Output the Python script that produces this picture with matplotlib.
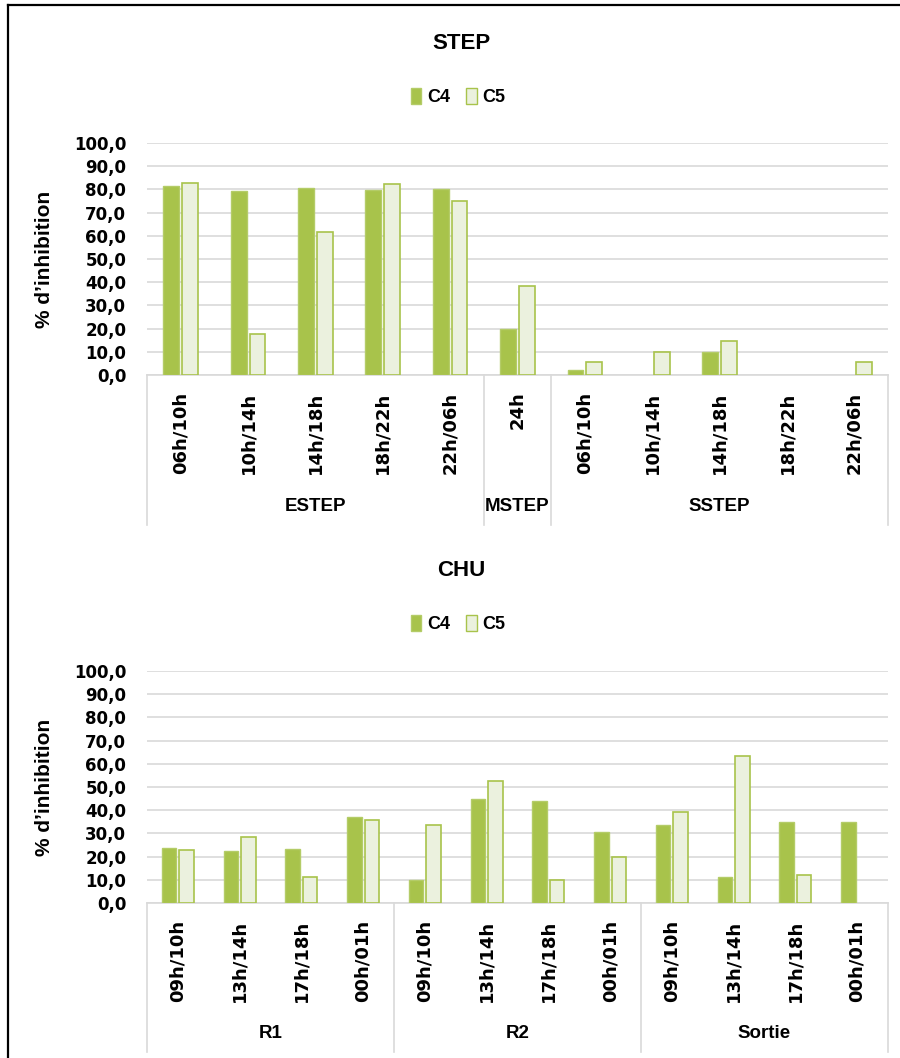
import numpy as np
import matplotlib
matplotlib.use('Agg')
import matplotlib.pyplot as plt
from matplotlib.lines import Line2D
from matplotlib.patches import Patch

# STEP data
step_groups = ['ESTEP', 'MSTEP', 'SSTEP']
step_group_sizes = [5, 1, 5]
step_labels = ['06h/10h', '10h/14h', '14h/18h', '18h/22h', '22h/06h',
               '24h',
               '06h/10h', '10h/14h', '14h/18h', '18h/22h', '22h/06h']
step_c4 = [81.5, 79.3, 80.6, 79.9, 80.0, 19.7, 2.3, 0.0, 10.0, 0.0, 0.0]
step_c5 = [82.9, 17.5, 61.5, 82.5, 74.9, 38.2, 5.4, 10.0, 14.6, 0.0, 5.8]

# CHU data
chu_groups = ['R1', 'R2', 'Sortie']
chu_group_sizes = [4, 4, 4]
chu_labels = ['09h/10h', '13h/14h', '17h/18h', '00h/01h'] * 3
chu_c4 = [23.5, 22.2, 23.1, 37.2, 10.0, 44.9, 43.9, 30.8, 33.6, 11.3, 34.9, 34.9]
chu_c5 = [22.7, 28.6, 11.3, 35.7, 33.6, 52.5, 9.9, 19.8, 39.3, 63.3, 12.2, 0.0]

series_names = ['C4', 'C5']

C4_FILL = '#A8C34B'
C4_EDGE = '#B4CC68'
C5_FILL = '#EBF1DE'
C5_EDGE = '#A8C34B'
GRID = '#D9D9D9'

W, H = 900, 1058
fig = plt.figure(figsize=(W / 100, H / 100), dpi=100)
fig.patch.set_facecolor('white')

TXT = ['Liberation Sans', 'DejaVu Sans']
TICK = ['DejaVu Sans']


def draw_panel(top_px, title, title_y, legend_y, labels, c4, c5, groups, sizes, box_bottom):
    left, right, bot = 147, 888, top_px + 232
    ax = fig.add_axes([left / W, 1 - bot / H, (right - left) / W, 232 / H])
    n = len(labels)
    x = np.arange(n)
    bw, off = 0.235, 0.14
    c4 = np.array(c4)
    c5 = np.array(c5)
    m4 = c4 > 0
    m5 = c5 > 0
    ax.bar(x[m4] - off, c4[m4], bw, color=C4_FILL, edgecolor=C4_EDGE, linewidth=1.0, zorder=3)
    ax.bar(x[m5] + off, c5[m5], bw, color=C5_FILL, edgecolor=C5_EDGE, linewidth=1.2, zorder=3)
    ax.set_xlim(-0.5, n - 0.5)
    ax.set_ylim(0, 100)
    ax.set_yticks(np.arange(0, 101, 10))
    ax.set_yticklabels(['%d,0' % v for v in range(0, 101, 10)],
                       fontfamily=TICK, fontweight='bold', fontsize=12)
    ax.set_xticks(x)
    ax.set_xticklabels(labels, rotation=90, fontfamily=TICK, fontweight='bold',
                       fontsize=13, va='top', ha='center')
    ax.tick_params(axis='y', length=0, pad=15)
    ax.tick_params(axis='x', length=0, pad=12)
    ax.grid(axis='y', color=GRID, linewidth=1.2, zorder=0)
    for s in ['top', 'right', 'left']:
        ax.spines[s].set_visible(False)
    ax.spines['bottom'].set_color(GRID)
    ax.spines['bottom'].set_linewidth(1.2)

    # category box with group separators
    yb = (bot - box_bottom) / 232.0
    tr = ax.get_xaxis_transform()
    edges = np.concatenate([[0], np.cumsum(sizes)]) - 0.5
    for e in edges:
        ax.plot([e, e], [0, yb], color=GRID, linewidth=1.2, transform=tr, clip_on=False)
    for g, a, b in zip(groups, edges[:-1], edges[1:]):
        ax.text((a + b) / 2, yb + 18 / 232.0, g, transform=tr, ha='center', va='center',
                fontfamily=TXT, fontweight='bold', fontsize=13.5)

    ax.set_ylabel('% d’inhibition', fontfamily=TXT, fontweight='bold', fontsize=15)
    ax.yaxis.set_label_coords(-0.125, 0.5)

    fig.text(461 / W, 1 - title_y / H, title, ha='center', va='center',
             fontfamily=TXT, fontweight='bold', fontsize=16)
    handles = [Patch(facecolor=C4_FILL, edgecolor=C4_EDGE),
               Patch(facecolor=C5_FILL, edgecolor=C5_EDGE)]
    ax.legend(handles, series_names, loc='center', bbox_to_anchor=(458 / W, 1 - legend_y / H),
              bbox_transform=fig.transFigure, ncol=2, frameon=False, handlelength=0.6,
              handleheight=1.0, handletextpad=0.3, columnspacing=0.9,
              prop={'family': TXT, 'weight': 'bold', 'size': 13})
    return ax


draw_panel(143, 'STEP', 43, 97, step_labels, step_c4, step_c5, step_groups, step_group_sizes, 525)
draw_panel(671, 'CHU', 570, 624, chu_labels, chu_c4, chu_c5, chu_groups, chu_group_sizes, 1052)

# outer frame (left and top edges visible)
fig.add_artist(Line2D([8 / W, 8 / W], [0, 1 - 5 / H], color='black', linewidth=1.6,
                      transform=fig.transFigure))
fig.add_artist(Line2D([8 / W, 1], [1 - 5 / H, 1 - 5 / H], color='black', linewidth=1.6,
                      transform=fig.transFigure))

fig.savefig('out.png', dpi=100)
